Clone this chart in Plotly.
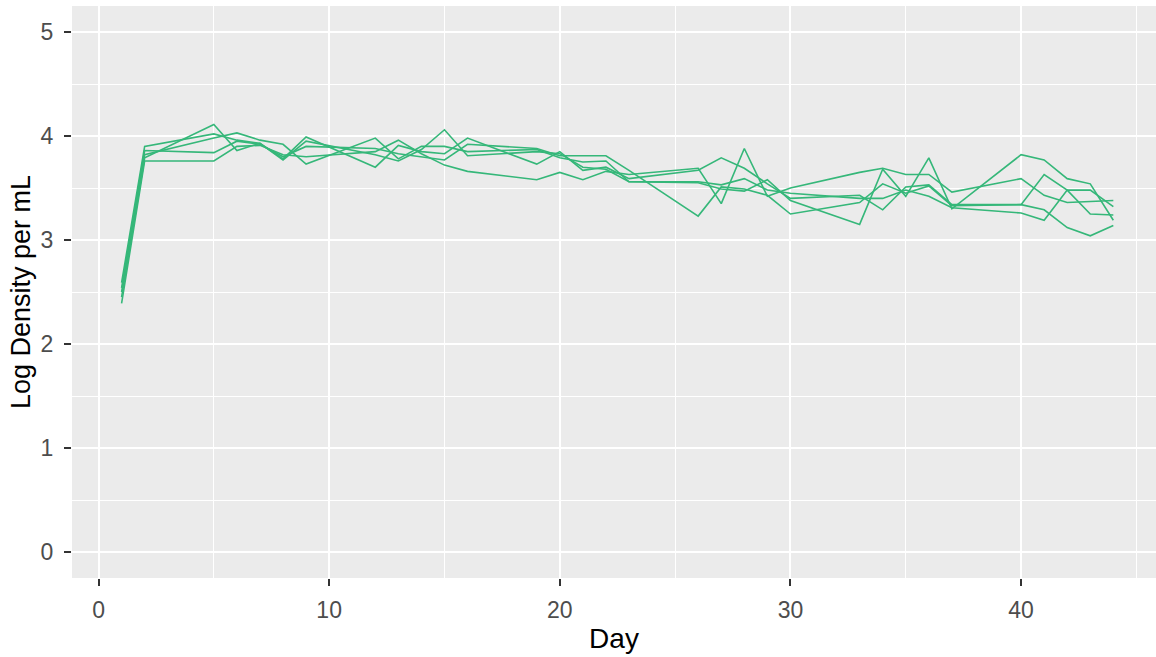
import plotly.graph_objects as go

# Sampling days shared by every replicate
days = [1, 2, 5, 6, 7, 8, 9, 12, 13, 14, 15, 16, 19, 20, 21, 22, 23,
        26, 27, 28, 29, 30, 33, 34, 35, 36, 37, 40, 41, 42, 43, 44]

# Log density per mL for each replicate culture
rep_a = [2.59, 3.90, 4.02, 3.96, 3.93, 3.78, 3.99, 3.70, 3.91, 3.85, 3.83, 3.98, 3.73, 3.85, 3.67, 3.70,
         3.59, 3.67, 3.79, 3.69, 3.54, 3.40, 3.43, 3.29, 3.51, 3.53, 3.34, 3.34, 3.63, 3.48, 3.25, 3.24]
rep_b = [2.54, 3.86, 3.84, 3.95, 3.92, 3.80, 3.90, 3.88, 3.83, 3.80, 3.77, 3.92, 3.88, 3.81, 3.81, 3.81,
         3.67, 3.23, 3.51, 3.49, 3.43, 3.25, 3.36, 3.54, 3.45, 3.52, 3.33, 3.34, 3.29, 3.12, 3.04, 3.14]
rep_c = [2.50, 3.82, 3.98, 4.03, 3.96, 3.92, 3.73, 3.98, 3.78, 3.90, 3.90, 3.85, 3.87, 3.79, 3.75, 3.76,
         3.56, 3.56, 3.53, 3.59, 3.48, 3.45, 3.40, 3.40, 3.48, 3.42, 3.31, 3.26, 3.19, 3.48, 3.48, 3.32]
rep_d = [2.45, 3.79, 4.11, 3.86, 3.93, 3.77, 3.95, 3.82, 3.76, 3.87, 4.06, 3.81, 3.85, 3.83, 3.70, 3.68,
         3.56, 3.55, 3.49, 3.47, 3.58, 3.38, 3.15, 3.68, 3.42, 3.79, 3.30, 3.82, 3.77, 3.59, 3.54, 3.19]
rep_e = [2.39, 3.76, 3.76, 3.90, 3.91, 3.82, 3.80, 3.85, 3.96, 3.83, 3.72, 3.66, 3.58, 3.65, 3.58, 3.66,
         3.63, 3.69, 3.35, 3.88, 3.42, 3.50, 3.65, 3.69, 3.63, 3.63, 3.46, 3.59, 3.43, 3.36, 3.37, 3.38]

replicates = [rep_a, rep_b, rep_c, rep_d, rep_e]

x_ticks = [0, 10, 20, 30, 40]
y_ticks = [0, 1, 2, 3, 4, 5]

LINE_COLOR = "#35B779"
PANEL_BG = "#EBEBEB"
FONT = "Liberation Sans, Arial, sans-serif"

fig = go.Figure()
for vals in replicates:
    fig.add_trace(go.Scatter(
        x=days, y=vals, mode="lines",
        line=dict(color=LINE_COLOR, width=1.6),
        hoverinfo="skip", showlegend=False,
    ))

axis_common = dict(
    showline=False, zeroline=False,
    showgrid=True, gridcolor="white", gridwidth=2.2,
    ticks="outside", ticklen=7, tickwidth=2, tickcolor="#333333",
    tickfont=dict(family=FONT, size=23, color="#4D4D4D"),
    fixedrange=True,
)

fig.update_layout(
    width=1156, height=657,
    margin=dict(l=72, r=0, t=6, b=79),
    paper_bgcolor="white", plot_bgcolor=PANEL_BG,
    font=dict(family=FONT),
    xaxis=dict(
        **axis_common,
        range=[-1.15, 45.85],
        tickvals=x_ticks,
        minor=dict(dtick=5, tick0=0, showgrid=True, gridcolor="white", gridwidth=1.1, ticks=""),
        title=dict(text="Day", font=dict(family=FONT, size=28, color="black"), standoff=6),
        ticklabelstandoff=4,
    ),
    yaxis=dict(
        **axis_common,
        range=[-0.25, 5.25],
        tickvals=y_ticks,
        minor=dict(dtick=0.5, tick0=0, showgrid=True, gridcolor="white", gridwidth=1.1, ticks=""),
        title=dict(text="Log Density per mL", font=dict(family=FONT, size=27, color="black"), standoff=2),
        ticklabelstandoff=6,
    ),
)

fig.write_html("out.html")
